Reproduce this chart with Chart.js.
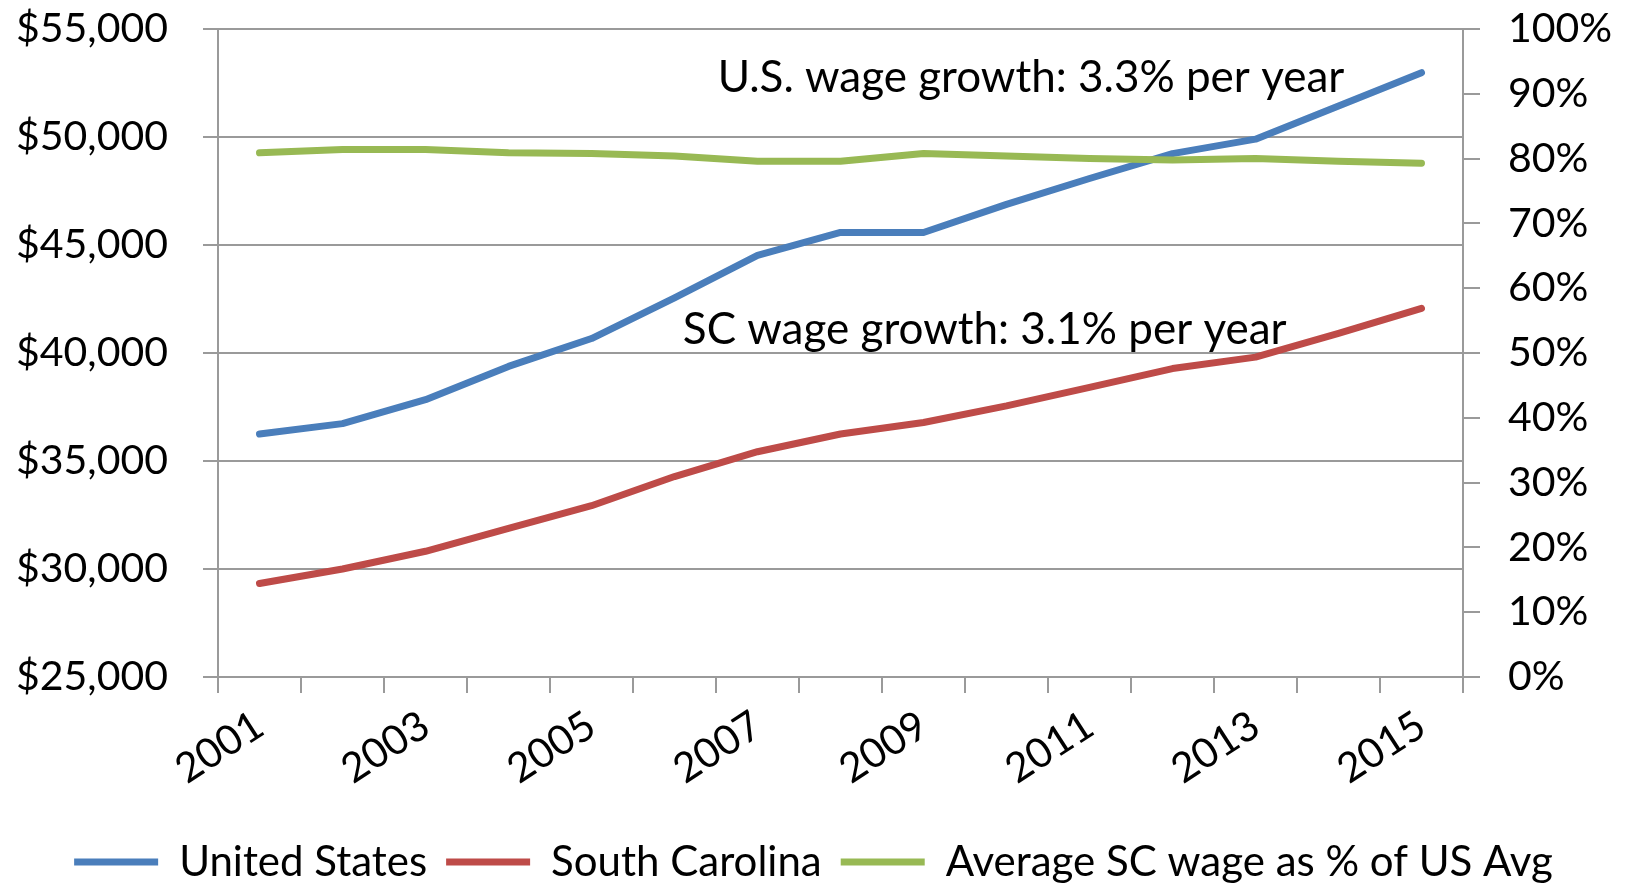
<!DOCTYPE html>
<html>
<head>
<meta charset="utf-8">
<script src="https://cdn.jsdelivr.net/npm/chart.js@4/dist/chart.umd.min.js"></script>
<style>
html,body{margin:0;padding:0;background:#fff;}
canvas{display:block;}
</style>
</head>
<body>
<canvas id="c" width="1627" height="885"></canvas>
<script>
// ---- data ----
const years = ['2001','2002','2003','2004','2005','2006','2007','2008','2009','2010','2011','2012','2013','2014','2015'];
const usWages = [36250, 36730, 37840, 39380, 40670, 42550, 44520, 45580, 45580, 46880, 48080, 49230, 49900, 51440, 52980];
const scWages = [29330, 30000, 30820, 31880, 32930, 34280, 35430, 36250, 36780, 37550, 38410, 39280, 39810, 40910, 42070];
const scPctOfUs = [80.9, 81.4, 81.4, 80.9, 80.8, 80.4, 79.6, 79.6, 80.8, 80.4, 80.0, 79.8, 80.0, 79.6, 79.3];
const seriesNames = ['United States', 'South Carolina', 'Average SC wage as % of US Avg'];
const noteTexts = ['U.S. wage growth: 3.3% per year', 'SC wage growth: 3.1% per year'];

// ---- styling ----
const FONT = 'Lato, "Open Sans", sans-serif';
const GRID = '#9a9a9a';
const BLUE = '#4A7EBB', RED = '#BE4B48', GREEN = '#98B954';

// annotation anchors (category index, left-axis value)
const noteAnchors = [
  {i: 5.52, v: 52720},
  {i: 5.10, v: 41070}
];

const notesPlugin = {
  id: 'notes',
  afterDatasetsDraw(chart) {
    const ctx = chart.ctx, x = chart.scales.x, y = chart.scales.y;
    ctx.save();
    ctx.font = '44px ' + FONT;
    ctx.fillStyle = '#000';
    ctx.textAlign = 'left';
    ctx.textBaseline = 'middle';
    noteTexts.forEach((t, k) => {
      ctx.fillText(t, x.getPixelForValue(noteAnchors[k].i), y.getPixelForValue(noteAnchors[k].v));
    });
    ctx.restore();
  }
};

const lineDs = (label, data, color, axis, order) => ({
  label, data, borderColor: color, backgroundColor: color,
  borderWidth: 7, pointRadius: 0, tension: 0, yAxisID: axis,
  borderCapStyle: 'round', borderJoinStyle: 'round', order,
  pointStyle: 'line'
});

new Chart(document.getElementById('c'), {
  type: 'line',
  data: {
    labels: years,
    datasets: [
      lineDs(seriesNames[0], usWages, BLUE, 'y', 1),
      lineDs(seriesNames[1], scWages, RED, 'y', 2),
      lineDs(seriesNames[2], scPctOfUs, GREEN, 'y1', 0)
    ]
  },
  options: {
    responsive: false,
    animation: false,
    layout: { padding: { top: 29, left: 16, right: 16, bottom: -8 } },
    plugins: {
      tooltip: { enabled: false },
      legend: {
        position: 'bottom',
        labels: {
          font: { family: FONT, size: 42 },
          color: '#000',
          usePointStyle: true,
          pointStyle: 'line',
          pointStyleWidth: 84,
          boxHeight: 8,
          padding: 19,
          sort: (a, b) => a.datasetIndex - b.datasetIndex
        }
      }
    },
    scales: {
      x: {
        offset: true,
        grid: { display: true, drawOnChartArea: false, drawTicks: true, tickLength: 16, offset: true, color: GRID, lineWidth: 2 },
        border: { display: true, color: GRID, width: 2 },
        ticks: {
          autoSkip: false, minRotation: 33, maxRotation: 33, padding: 8,
          color: '#000', font: { family: FONT, size: 41 },
          callback: (v, i) => (i % 2 === 0 ? years[i] : '')
        },
        afterFit: s => { s.height = 145; }
      },
      y: {
        position: 'left', min: 25000, max: 55000,
        grid: { color: GRID, lineWidth: 2, tickLength: 15 },
        border: { display: true, color: GRID, width: 2 },
        ticks: {
          stepSize: 5000, padding: 0, crossAlign: 'far', color: '#000', font: { family: FONT, size: 41 },
          callback: v => '$' + v.toLocaleString('en-US')
        },
        afterFit: s => { s.width = 202; }
      },
      y1: {
        position: 'right', min: 0, max: 100,
        grid: { drawOnChartArea: false, color: GRID, lineWidth: 2, tickLength: 45, tickBorderDash: [16, 200] },
        border: { display: true, color: GRID, width: 2 },
        ticks: {
          stepSize: 10, padding: 0, color: '#000', font: { family: FONT, size: 41 },
          callback: v => v + '%'
        },
        afterFit: s => { s.width = 148; }
      }
    }
  },
  plugins: [notesPlugin]
});
</script>
</body>
</html>
